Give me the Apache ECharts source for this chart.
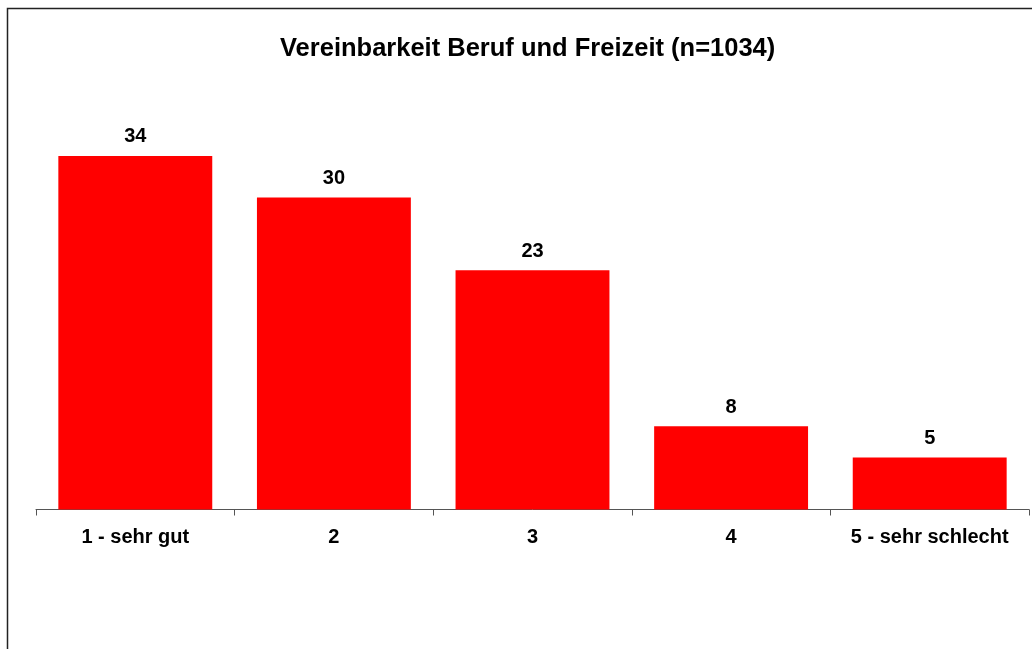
<!DOCTYPE html>
<html>
<head>
<meta charset="utf-8">
<script src="https://cdn.jsdelivr.net/npm/echarts@6/dist/echarts.min.js"></script>
<style>
  html, body { margin: 0; padding: 0; background: #fff; }
  #chart { width: 1032px; height: 649px; }
</style>
</head>
<body>
<div id="chart"></div>
<script>
// Chart data
const categories = ['1 - sehr gut', '2', '3', '4', '5 - sehr schlecht'];
const values = [34, 30, 23, 8, 5];
const titleText = 'Vereinbarkeit Beruf und Freizeit (n=1034)';

const fontFamily = '"Liberation Sans", Arial, sans-serif';

const chart = echarts.init(document.getElementById('chart'), null, { renderer: 'canvas' });

chart.setOption({
    animation: false,
    backgroundColor: '#fff',
    title: {
        text: titleText,
        left: 275,
        top: 31,
        textStyle: { fontFamily, fontSize: 25.5, fontWeight: 'bold', color: '#000' }
    },
    graphic: [{
        type: 'rect',
        shape: { x: 7.5, y: 8.5, width: 1040, height: 700 },
        style: { fill: 'none', stroke: '#222', lineWidth: 1.5 },
        silent: true
    }],
    grid: { left: 36, right: 3, top: 93.5, bottom: 139.5, containLabel: false },
    xAxis: {
        type: 'category',
        data: categories,
        axisLine: { show: true, lineStyle: { color: '#555', width: 1 } },
        axisTick: { show: true, length: 6, alignWithLabel: false, lineStyle: { color: '#555' } },
        axisLabel: { fontFamily, fontSize: 20, fontWeight: 'bold', color: '#000', margin: 18, interval: 0 }
    },
    yAxis: {
        type: 'value',
        min: 0,
        max: 40,
        show: false,
        splitLine: { show: false }
    },
    series: [{
        type: 'bar',
        data: values,
        barCategoryGap: '22.5%',
        itemStyle: { color: '#ff0000' },
        label: {
            show: true,
            position: 'top',
            distance: 9,
            fontFamily,
            fontSize: 20,
            fontWeight: 'bold',
            color: '#000'
        }
    }]
});
</script>
</body>
</html>
